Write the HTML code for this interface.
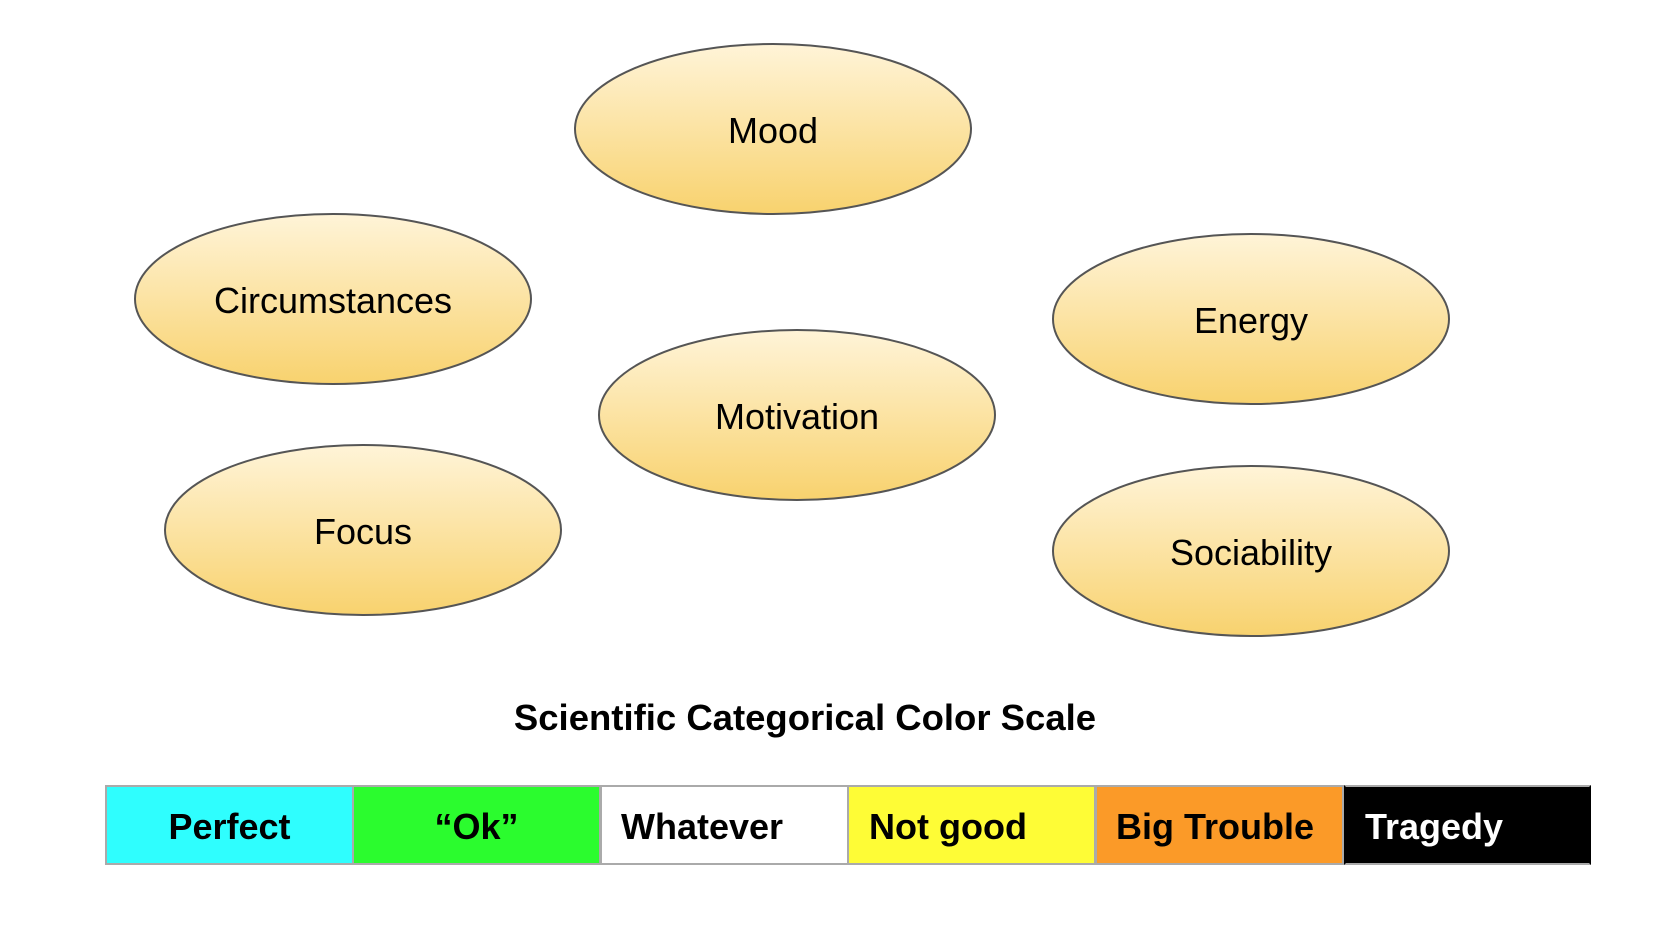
<!DOCTYPE html>
<html><head><meta charset="utf-8"><style>
html,body{margin:0;padding:0;background:#fff;}
body{width:1668px;height:946px;position:relative;overflow:hidden;font-family:"Liberation Sans",Arial,sans-serif;}
.t{position:absolute;top:699px;left:0;width:1610px;text-align:center;font-weight:bold;font-size:36.5px;line-height:38px;color:#000;}
.bar{position:absolute;top:785px;height:80px;box-sizing:border-box;border:2px solid #aaa;font-weight:bold;font-size:36px;line-height:80px;}
</style></head><body>
<svg width="1668" height="946" style="position:absolute;left:0;top:0">
<defs><linearGradient id="g" x1="0" y1="0" x2="0" y2="1"><stop offset="0" stop-color="#fff4d8"/><stop offset="1" stop-color="#f8d26e"/></linearGradient></defs>
<g stroke="#555" stroke-width="2" fill="url(#g)">
<ellipse cx="773" cy="129" rx="198" ry="85"/>
<ellipse cx="333" cy="299" rx="198" ry="85"/>
<ellipse cx="1251" cy="319" rx="198" ry="85"/>
<ellipse cx="797" cy="415" rx="198" ry="85"/>
<ellipse cx="363" cy="530" rx="198" ry="85"/>
<ellipse cx="1251" cy="551" rx="198" ry="85"/>
</g>
<g font-family="Liberation Sans, Arial, sans-serif" font-size="36" text-anchor="middle" fill="#000">
<text x="773" y="143">Mood</text>
<text x="333" y="313">Circumstances</text>
<text x="1251" y="333">Energy</text>
<text x="797" y="429">Motivation</text>
<text x="363" y="544">Focus</text>
<text x="1251" y="565">Sociability</text>
</g>
</svg>
<div class="t">Scientific Categorical Color Scale</div>
<div class="bar" style="left:105px;width:249px;background:#2ffefe;text-align:center">Perfect</div>
<div class="bar" style="left:352px;width:249px;background:#2bfc2e;text-align:center">“Ok”</div>
<div class="bar" style="left:600px;width:249px;background:#fff;padding-left:19px">Whatever</div>
<div class="bar" style="left:847px;width:249px;background:#fefc36;padding-left:20px">Not good</div>
<div class="bar" style="left:1095px;width:249px;background:#fb9a28;padding-left:19px">Big Trouble</div>
<div class="bar" style="left:1344px;width:247px;background:#000;color:#fff;border-color:#aaa #000 #aaa #000;padding-left:19px">Tragedy</div>
</body></html>
